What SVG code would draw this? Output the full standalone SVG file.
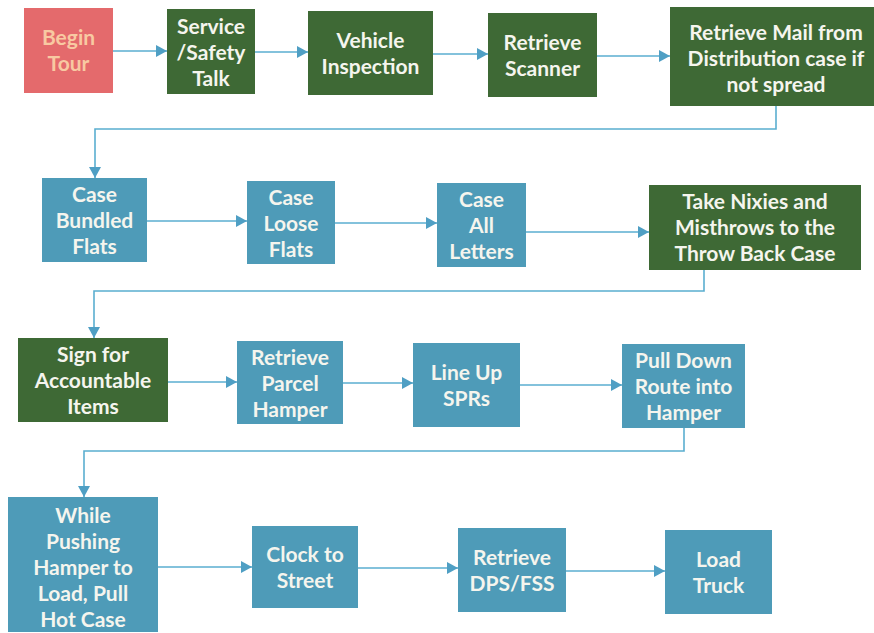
<svg xmlns="http://www.w3.org/2000/svg" width="874" height="633" viewBox="0 0 874 633">
<defs>
<marker id="ah" markerUnits="userSpaceOnUse" markerWidth="12" markerHeight="12" refX="11" refY="6" orient="auto">
<path d="M0,0 L11,6 L0,12 z" fill="#4f9fc4"/>
</marker>
<style>
.g{fill:#3e6935}
.b{fill:#4e9bb8}
.r{fill:#e46a6c}
text{font-family:Lato,"Open Sans","Liberation Sans",sans-serif;font-weight:700;font-size:21px;fill:#f5f5ee;text-anchor:middle}
.pt{fill:#f8c9a2}
.c{fill:none;stroke:#5aaed0;stroke-width:1.6}
</style>
</defs>
<rect width="874" height="633" fill="#ffffff"/>
<g id="connectors">
<path class="c" d="M113 51 H167" marker-end="url(#ah)"/>
<path class="c" d="M255 52 H308" marker-end="url(#ah)"/>
<path class="c" d="M433 54 H488" marker-end="url(#ah)"/>
<path class="c" d="M597 56 H670" marker-end="url(#ah)"/>
<path class="c" d="M776 106 V129 H95 V178" marker-end="url(#ah)"/>
<path class="c" d="M147 221 H247" marker-end="url(#ah)"/>
<path class="c" d="M335 223 H437" marker-end="url(#ah)"/>
<path class="c" d="M526 232 H649" marker-end="url(#ah)"/>
<path class="c" d="M704 270 V291 H94 V338" marker-end="url(#ah)"/>
<path class="c" d="M168 382 H237" marker-end="url(#ah)"/>
<path class="c" d="M343 383 H413" marker-end="url(#ah)"/>
<path class="c" d="M520 385 H622" marker-end="url(#ah)"/>
<path class="c" d="M684 428 V451 H84 V497" marker-end="url(#ah)"/>
<path class="c" d="M158 567 H252" marker-end="url(#ah)"/>
<path class="c" d="M358 568 H458" marker-end="url(#ah)"/>
<path class="c" d="M566 571 H665" marker-end="url(#ah)"/>
</g>
<g id="begin-tour"><rect class="r" x="24" y="8" width="89" height="85"/><text class="pt" x="68.5" y="45">Begin</text><text class="pt" x="68.5" y="71">Tour</text></g>
<g id="service-safety"><rect class="g" x="167" y="9" width="88" height="85"/><text x="211" y="34">Service</text><text x="211" y="60">/Safety</text><text x="211" y="86">Talk</text></g>
<g id="vehicle-inspection"><rect class="g" x="308" y="11" width="125" height="84"/><text x="370.5" y="48">Vehicle</text><text x="370.5" y="74">Inspection</text></g>
<g id="retrieve-scanner"><rect class="g" x="488" y="13" width="109" height="84"/><text x="542.5" y="50">Retrieve</text><text x="542.5" y="76">Scanner</text></g>
<g id="retrieve-mail"><rect class="g" x="670" y="7" width="212" height="99"/><text x="776" y="40">Retrieve Mail from</text><text x="776" y="66">Distribution case if</text><text x="776" y="92">not spread</text></g>
<g id="case-bundled"><rect class="b" x="42" y="178" width="105" height="84"/><text x="94.5" y="202">Case</text><text x="94.5" y="228">Bundled</text><text x="94.5" y="254">Flats</text></g>
<g id="case-loose"><rect class="b" x="247" y="181" width="88" height="83"/><text x="291" y="205">Case</text><text x="291" y="231">Loose</text><text x="291" y="257">Flats</text></g>
<g id="case-letters"><rect class="b" x="437" y="183" width="89" height="84"/><text x="481.5" y="207">Case</text><text x="481.5" y="233">All</text><text x="481.5" y="259">Letters</text></g>
<g id="take-nixies"><rect class="g" x="649" y="185" width="212" height="85"/><text x="755" y="209">Take Nixies and</text><text x="755" y="235">Misthrows to the</text><text x="755" y="261">Throw Back Case</text></g>
<g id="sign-accountable"><rect class="g" x="18" y="338" width="150" height="84"/><text x="93" y="362">Sign for</text><text x="93" y="388">Accountable</text><text x="93" y="414">Items</text></g>
<g id="retrieve-parcel"><rect class="b" x="237" y="341" width="106" height="83"/><text x="290" y="365">Retrieve</text><text x="290" y="391">Parcel</text><text x="290" y="417">Hamper</text></g>
<g id="line-up-sprs"><rect class="b" x="413" y="343" width="107" height="84"/><text x="466.5" y="380">Line Up</text><text x="466.5" y="406">SPRs</text></g>
<g id="pull-down-route"><rect class="b" x="622" y="344" width="123" height="84"/><text x="683.5" y="368">Pull Down</text><text x="683.5" y="394">Route into</text><text x="683.5" y="420">Hamper</text></g>
<g id="while-pushing"><rect class="b" x="8" y="497" width="150" height="135"/><text x="83" y="523">While</text><text x="83" y="549">Pushing</text><text x="83" y="575">Hamper to</text><text x="83" y="601">Load, Pull</text><text x="83" y="627">Hot Case</text></g>
<g id="clock-street"><rect class="b" x="252" y="526" width="106" height="82"/><text x="305" y="562">Clock to</text><text x="305" y="588">Street</text></g>
<g id="retrieve-dps"><rect class="b" x="458" y="528" width="108" height="84"/><text x="512" y="565">Retrieve</text><text x="512" y="591">DPS/FSS</text></g>
<g id="load-truck"><rect class="b" x="665" y="530" width="107" height="84"/><text x="718.5" y="567">Load</text><text x="718.5" y="593">Truck</text></g>
</svg>
